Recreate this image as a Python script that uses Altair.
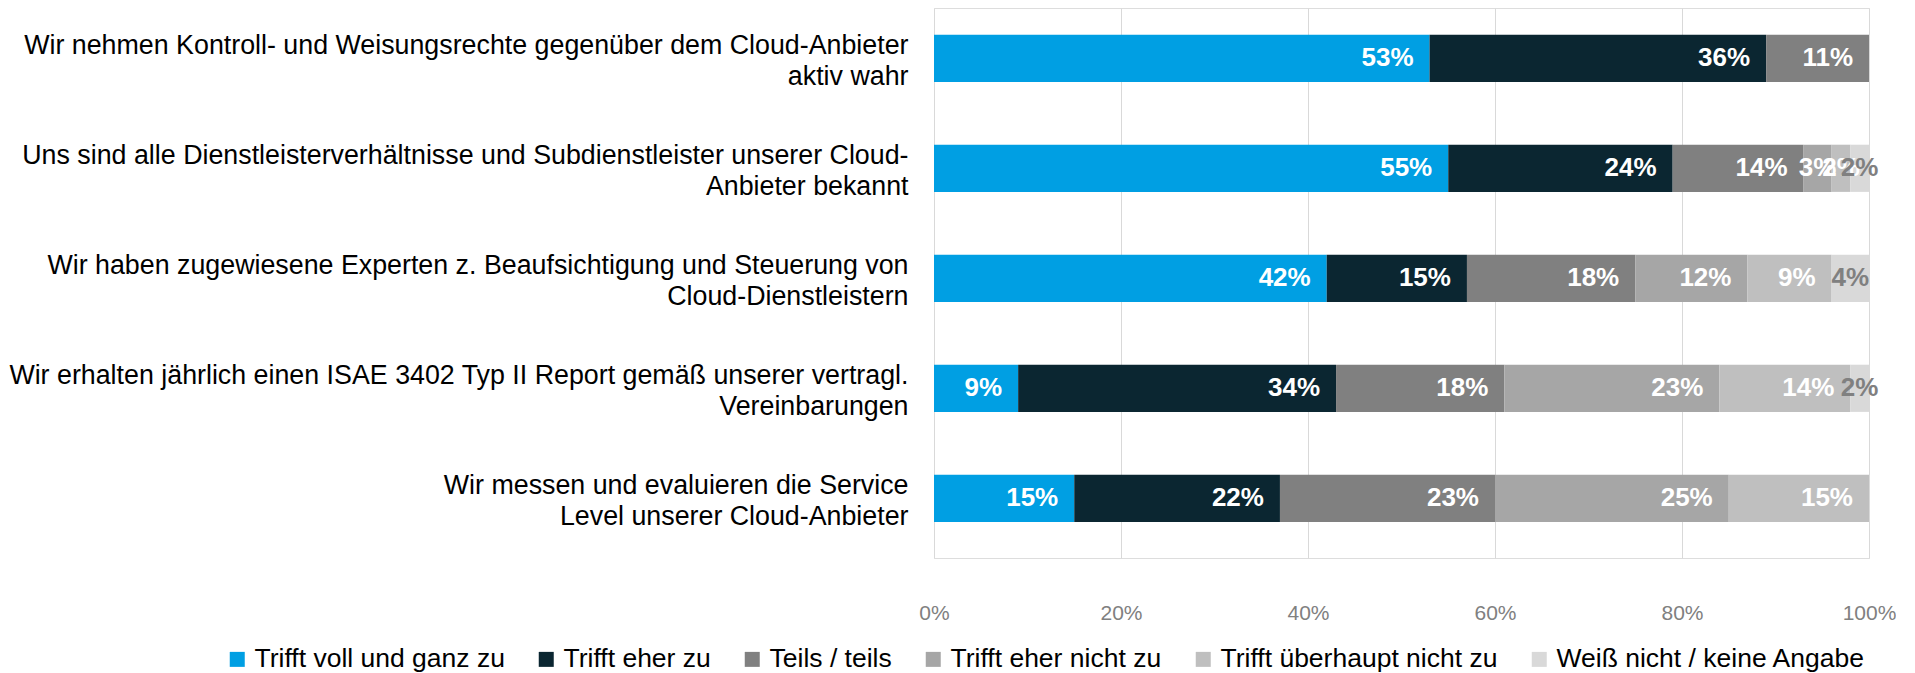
import altair as alt
import pandas as pd

# ---- data ----
statements = [
    ["Wir nehmen Kontroll- und Weisungsrechte gegenüber dem Cloud-Anbieter", "aktiv wahr"],
    ["Uns sind alle Dienstleisterverhältnisse und Subdienstleister unserer Cloud-", "Anbieter bekannt"],
    ["Wir haben zugewiesene Experten z. Beaufsichtigung und Steuerung von", "Cloud-Dienstleistern"],
    ["Wir erhalten jährlich einen ISAE 3402 Typ II Report gemäß unserer vertragl.", "Vereinbarungen"],
    ["Wir messen und evaluieren die Service", "Level unserer Cloud-Anbieter"],
]
answers = [
    "Trifft voll und ganz zu",
    "Trifft eher zu",
    "Teils / teils",
    "Trifft eher nicht zu",
    "Trifft überhaupt nicht zu",
    "Weiß nicht / keine Angabe",
]
colors = ["#009FE3", "#0B2631", "#808080", "#A6A6A6", "#BFBFBF", "#D9D9D9"]

voll = [53, 55, 42, 9, 15]
eher = [36, 24, 15, 34, 22]
teils = [11, 14, 18, 18, 23]
eher_nicht = [0, 3, 12, 23, 25]
ueberhaupt = [0, 2, 9, 14, 15]
weiss = [0, 2, 4, 2, 0]

series = [voll, eher, teils, eher_nicht, ueberhaupt, weiss]

rows = []
labels = ["|".join(s) for s in statements]
for i, lab in enumerate(labels):
    cum = 0
    for j, ans in enumerate(answers):
        v = series[j][i]
        if v <= 0:
            continue
        start = cum / 100
        cum += v
        end = cum / 100
        rows.append({
            "label": lab,
            "answer": ans,
            "order": j,
            "start": start,
            "end": end,
            "mid": (start + end) / 2,
            "text": f"{v}%",
            "wide": v >= 8,
        })
df = pd.DataFrame(rows)

FONT = "Liberation Sans"

y_scale = alt.Scale(paddingInner=0.571, paddingOuter=0.2855, align=0.425)

y_enc = alt.Y(
    "label:N",
    sort=labels,
    title=None,
    scale=y_scale,
    axis=alt.Axis(
        labelExpr="split(datum.label, '|')",
        labelFont=FONT,
        labelFontSize=26.8,
        labelColor="#000000",
        labelLineHeight=31,
        labelOffset=-12,
        labelPadding=26,
        labelLimit=2000,
        ticks=False,
        domain=False,
        grid=False,
        minExtent=926,
        maxExtent=926,
    ),
)

x_scale = alt.Scale(domain=[0, 1], nice=False)

bars = alt.Chart(df).mark_bar().encode(
    x=alt.X(
        "start:Q",
        scale=x_scale,
        title=None,
        axis=alt.Axis(
            format="%",
            values=[0, 0.2, 0.4, 0.6, 0.8, 1.0],
            labelFont=FONT,
            labelFontSize=21,
            labelColor="#808080",
            labelPadding=44,
            labelFlush=False,
            ticks=False,
            domain=False,
            grid=True,
            gridColor="#D9D9D9",
            gridWidth=1,
        ),
    ),
    x2="end:Q",
    y=y_enc,
    color=alt.Color(
        "answer:N",
        scale=alt.Scale(domain=answers, range=colors),
        sort=answers,
        legend=alt.Legend(
            title=None,
            orient="none",
            direction="horizontal",
            columns=6,
            legendX=-710,
            legendY=638,
            symbolType="square",
            symbolSize=225,
            symbolStrokeWidth=0,
            labelFont=FONT,
            labelFontSize=26.5,
            labelColor="#000000",
            labelOffset=4,
            columnPadding=28,
            labelLimit=1000,
        ),
    ),
    order=alt.Order("order:Q"),
)

text_color = alt.condition(
    alt.datum.answer == answers[5], alt.value("#808080"), alt.value("#FFFFFF")
)

wide_text = alt.Chart(df).transform_filter("datum.wide").mark_text(
    align="right", baseline="middle", dx=-16,
    font=FONT, fontSize=26, fontWeight="bold",
).encode(
    x=alt.X("end:Q", scale=x_scale),
    y=alt.Y("label:N", sort=labels, scale=y_scale),
    text="text:N",
    color=text_color,
)

narrow_text = alt.Chart(df).transform_filter("!datum.wide").mark_text(
    align="center", baseline="middle",
    font=FONT, fontSize=26, fontWeight="bold",
).encode(
    x=alt.X("mid:Q", scale=x_scale),
    y=alt.Y("label:N", sort=labels, scale=y_scale),
    text="text:N",
    color=text_color,
)

chart = alt.layer(bars, wide_text, narrow_text).properties(
    width=935,
    height=550,
    padding={"left": 0, "top": 0, "right": 0, "bottom": 0},
).configure_view(stroke=None).configure(background="#FFFFFF")

chart.save("out.html", embed_options={"renderer": "svg", "actions": False})
